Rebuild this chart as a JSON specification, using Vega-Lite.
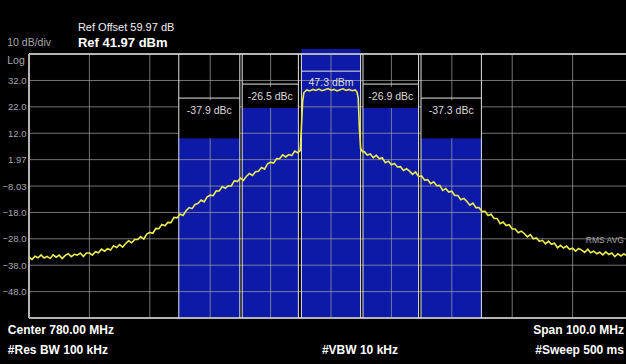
{
  "$schema": "https://vega.github.io/schema/vega-lite/v6.json",
  "width": 597,
  "height": 269,
  "autosize": {"type": "none"},
  "padding": {"left": 29, "top": 49, "right": 0, "bottom": 46},
  "background": "#000000",
  "config": {"view": {"stroke": null}, "font": "Liberation Sans", "axisY": {"labelOverlap": false}},
  "datasets": {
    "chan": [
      {"ch": "altL", "f1": 754.8, "f2": 764.9, "fc": 759.85, "p": 10.1, "bl": 25.3, "bt": 24.5, "ll": 20.4, "lbl": "-37.9 dBc"},
      {"ch": "adjL", "f1": 765.3, "f2": 774.6, "fc": 769.95, "p": 21.5, "bl": 30.6, "bt": 29.5, "ll": 25.7, "lbl": "-26.5 dBc"},
      {"ch": "ctr", "f1": 775.1, "f2": 784.9, "fc": 780.0, "p": 47.3, "bl": 35.5, "bt": null, "ll": 31.0, "lbl": "47.3 dBm"},
      {"ch": "adjR", "f1": 785.3, "f2": 794.5, "fc": 789.9, "p": 21.5, "bl": 30.6, "bt": 29.5, "ll": 25.7, "lbl": "-26.9 dBc"},
      {"ch": "altR", "f1": 794.9, "f2": 804.9, "fc": 799.9, "p": 10.1, "bl": 25.3, "bt": 24.5, "ll": 20.4, "lbl": "-37.3 dBc"}
    ],
    "vg": [{"f": 740}, {"f": 750}, {"f": 760}, {"f": 770}, {"f": 780}, {"f": 790}, {"f": 800}, {"f": 810}, {"f": 820}],
    "hg": [{"p": 31.97}, {"p": 21.97}, {"p": 11.97}, {"p": 1.97}, {"p": -8.03}, {"p": -18.03}, {"p": -28.03}, {"p": -38.03}, {"p": -48.03}],
    "trace": [
      {"f": 730, "p": -35.0}, {"f": 730.5, "p": -35.8}, {"f": 731, "p": -34.6}, {"f": 731.5, "p": -35.2},
      {"f": 732, "p": -34.1}, {"f": 732.5, "p": -35.3}, {"f": 733, "p": -34.7}, {"f": 733.5, "p": -35.5},
      {"f": 734, "p": -34.1}, {"f": 734.5, "p": -35.0}, {"f": 735, "p": -34.2}, {"f": 735.5, "p": -35.5},
      {"f": 736, "p": -34.3}, {"f": 736.5, "p": -33.7}, {"f": 737, "p": -34.8}, {"f": 737.5, "p": -33.9},
      {"f": 738, "p": -34.2}, {"f": 738.5, "p": -33.4}, {"f": 739, "p": -34.7}, {"f": 739.5, "p": -33.4},
      {"f": 740, "p": -33.4}, {"f": 740.5, "p": -34.2}, {"f": 741, "p": -32.9}, {"f": 741.5, "p": -33.3},
      {"f": 742, "p": -31.9}, {"f": 742.5, "p": -32.7}, {"f": 743, "p": -31.8}, {"f": 743.5, "p": -32.3},
      {"f": 744, "p": -30.7}, {"f": 744.5, "p": -31.3}, {"f": 745, "p": -30.2}, {"f": 745.5, "p": -31.2},
      {"f": 746, "p": -29.8}, {"f": 746.5, "p": -28.8}, {"f": 747, "p": -29.5}, {"f": 747.5, "p": -28.3},
      {"f": 748, "p": -28.3}, {"f": 748.5, "p": -27.2}, {"f": 749, "p": -28.1}, {"f": 749.5, "p": -26.2},
      {"f": 750, "p": -25.6}, {"f": 750.5, "p": -25.9}, {"f": 751, "p": -24.1}, {"f": 751.5, "p": -24.2},
      {"f": 752, "p": -22.6}, {"f": 752.5, "p": -23.1}, {"f": 753, "p": -21.8}, {"f": 753.5, "p": -21.9},
      {"f": 754, "p": -19.9}, {"f": 754.5, "p": -20.1}, {"f": 755, "p": -18.6}, {"f": 755.5, "p": -19.2},
      {"f": 756, "p": -17.4}, {"f": 756.5, "p": -16.2}, {"f": 757, "p": -16.6}, {"f": 757.5, "p": -15.0},
      {"f": 758, "p": -14.6}, {"f": 758.5, "p": -13.3}, {"f": 759, "p": -14.0}, {"f": 759.5, "p": -12.1},
      {"f": 760, "p": -11.5}, {"f": 760.5, "p": -11.7}, {"f": 761, "p": -9.8}, {"f": 761.5, "p": -9.9},
      {"f": 762, "p": -8.2}, {"f": 762.5, "p": -8.9}, {"f": 763, "p": -7.9}, {"f": 763.5, "p": -8.0},
      {"f": 764, "p": -6.0}, {"f": 764.5, "p": -6.3}, {"f": 765, "p": -5.0}, {"f": 765.5, "p": -5.9},
      {"f": 766, "p": -4.3}, {"f": 766.5, "p": -3.3}, {"f": 767, "p": -4.0}, {"f": 767.5, "p": -2.6},
      {"f": 768, "p": -2.4}, {"f": 768.5, "p": -1.0}, {"f": 769, "p": -1.6}, {"f": 769.5, "p": 0.4},
      {"f": 770, "p": 1.0}, {"f": 770.5, "p": 0.7}, {"f": 771, "p": 2.4}, {"f": 771.5, "p": 2.3},
      {"f": 772, "p": 3.8}, {"f": 772.5, "p": 3.0}, {"f": 773, "p": 3.9}, {"f": 773.5, "p": 3.5},
      {"f": 774, "p": 5.2}, {"f": 774.5, "p": 4.6}, {"f": 774.9, "p": 5.4}, {"f": 775.1, "p": 14.0},
      {"f": 775.3, "p": 24.0}, {"f": 775.5, "p": 27.3}, {"f": 775.8, "p": 28.0}, {"f": 776, "p": 28.4},
      {"f": 776.5, "p": 28.0}, {"f": 777, "p": 28.6}, {"f": 777.5, "p": 28.2}, {"f": 778, "p": 28.7},
      {"f": 778.5, "p": 28.1}, {"f": 779, "p": 28.5}, {"f": 779.5, "p": 28.9}, {"f": 780, "p": 28.3},
      {"f": 780.5, "p": 28.6}, {"f": 781, "p": 28.0}, {"f": 781.5, "p": 28.5}, {"f": 782, "p": 28.8},
      {"f": 782.5, "p": 28.2}, {"f": 783, "p": 28.6}, {"f": 783.5, "p": 28.1}, {"f": 784, "p": 28.4},
      {"f": 784.3, "p": 27.6}, {"f": 784.5, "p": 25.5}, {"f": 784.7, "p": 14.0}, {"f": 784.9, "p": 6.2},
      {"f": 785.2, "p": 5.0}, {"f": 785.5, "p": 5.0}, {"f": 786, "p": 3.7}, {"f": 786.5, "p": 4.1},
      {"f": 787, "p": 2.7}, {"f": 787.5, "p": 3.6}, {"f": 788, "p": 2.4}, {"f": 788.5, "p": 2.6},
      {"f": 789, "p": 0.8}, {"f": 789.5, "p": 1.4}, {"f": 790, "p": 0.0}, {"f": 790.5, "p": 0.5},
      {"f": 791, "p": -0.8}, {"f": 791.5, "p": -0.7}, {"f": 792, "p": -2.1}, {"f": 792.5, "p": -1.5},
      {"f": 793, "p": -2.4}, {"f": 793.5, "p": -3.6}, {"f": 794, "p": -2.7}, {"f": 794.5, "p": -4.4},
      {"f": 795, "p": -4.2}, {"f": 795.5, "p": -5.8}, {"f": 796, "p": -5.6}, {"f": 796.5, "p": -7.1},
      {"f": 797, "p": -6.4}, {"f": 797.5, "p": -7.9}, {"f": 798, "p": -7.8}, {"f": 798.5, "p": -9.7},
      {"f": 799, "p": -9.0}, {"f": 799.5, "p": -10.3}, {"f": 800, "p": -10.0}, {"f": 800.5, "p": -11.6},
      {"f": 801, "p": -11.6}, {"f": 801.5, "p": -13.2}, {"f": 802, "p": -12.7}, {"f": 802.5, "p": -13.9},
      {"f": 803, "p": -15.3}, {"f": 803.5, "p": -14.5}, {"f": 804, "p": -16.2}, {"f": 804.5, "p": -16.2},
      {"f": 805, "p": -17.7}, {"f": 805.5, "p": -17.6}, {"f": 806, "p": -19.2}, {"f": 806.5, "p": -18.7},
      {"f": 807, "p": -20.3}, {"f": 807.5, "p": -20.3}, {"f": 808, "p": -22.3}, {"f": 808.5, "p": -21.7},
      {"f": 809, "p": -23.0}, {"f": 809.5, "p": -22.7}, {"f": 810, "p": -24.3}, {"f": 810.5, "p": -24.3},
      {"f": 811, "p": -25.7}, {"f": 811.5, "p": -25.1}, {"f": 812, "p": -26.0}, {"f": 812.5, "p": -27.3},
      {"f": 813, "p": -26.4}, {"f": 813.5, "p": -28.0}, {"f": 814, "p": -27.7}, {"f": 814.5, "p": -29.0},
      {"f": 815, "p": -28.6}, {"f": 815.5, "p": -29.9}, {"f": 816, "p": -28.9}, {"f": 816.5, "p": -30.1},
      {"f": 817, "p": -29.7}, {"f": 817.5, "p": -31.4}, {"f": 818, "p": -30.5}, {"f": 818.5, "p": -31.5},
      {"f": 819, "p": -30.8}, {"f": 819.5, "p": -32.0}, {"f": 820, "p": -31.6}, {"f": 820.5, "p": -32.7},
      {"f": 821, "p": -31.7}, {"f": 821.5, "p": -32.3}, {"f": 822, "p": -33.2}, {"f": 822.5, "p": -32.0},
      {"f": 823, "p": -33.3}, {"f": 823.5, "p": -32.7}, {"f": 824, "p": -33.7}, {"f": 824.5, "p": -33.1},
      {"f": 825, "p": -34.1}, {"f": 825.5, "p": -33.0}, {"f": 826, "p": -34.0}, {"f": 826.5, "p": -33.4},
      {"f": 827, "p": -34.8}, {"f": 827.5, "p": -33.7}, {"f": 828, "p": -34.5}, {"f": 828.5, "p": -33.7},
      {"f": 828.8, "p": -34.3}
    ]
  },
  "layer": [
    {
      "data": {"name": "chan"},
      "mark": {"type": "rect", "color": "#0d1aa8", "clip": true},
      "encoding": {
        "x": {"field": "f1", "type": "quantitative", "scale": {"domain": [730, 828.84], "nice": false, "zero": false}, "axis": null},
        "x2": {"field": "f2"},
        "y": {"field": "p", "type": "quantitative", "scale": {"domain": [-58.03, 43.9], "nice": false, "zero": false},
          "axis": {"values": [31.97, 21.97, 11.97, 1.97, -8.03, -18.03, -28.03, -38.03, -48.03], "format": ".3r", "tickCount": 30,
            "title": null, "grid": false, "domain": false, "ticks": false, "labelOverlap": false, "labelBound": false, "labelFlush": false,
            "labelColor": "#a8a8a8", "labelFontSize": 9.5, "labelPadding": 3, "labelFont": "Liberation Sans"}},
        "y2": {"datum": -58.03}
      }
    },
    {
      "data": {"name": "vg"},
      "mark": {"type": "rule", "color": "#a0a0a0", "opacity": 0.72, "strokeWidth": 1},
      "encoding": {
        "x": {"field": "f", "type": "quantitative", "scale": {"domain": [730, 828.84], "nice": false, "zero": false}, "axis": null},
        "y": {"datum": 41.97, "type": "quantitative", "scale": {"domain": [-58.03, 43.9], "nice": false, "zero": false}},
        "y2": {"datum": -58.03}
      }
    },
    {
      "data": {"name": "hg"},
      "mark": {"type": "rule", "color": "#a0a0a0", "opacity": 0.72, "strokeWidth": 1},
      "encoding": {
        "y": {"field": "p", "type": "quantitative", "scale": {"domain": [-58.03, 43.9], "nice": false, "zero": false}}
      }
    },
    {
      "data": {"name": "chan"},
      "transform": [{"filter": "datum.bt != null"}],
      "mark": {"type": "rect", "color": "#000000"},
      "encoding": {
        "x": {"field": "f1", "type": "quantitative", "scale": {"domain": [730, 828.84], "nice": false, "zero": false}, "axis": null},
        "x2": {"field": "f2"},
        "y": {"field": "bt", "type": "quantitative", "scale": {"domain": [-58.03, 43.9], "nice": false, "zero": false}},
        "y2": {"field": "p"}
      }
    },
    {
      "data": {"values": [{"e": "top", "p": 41.97}, {"e": "bottom", "p": -58.03}]},
      "mark": {"type": "rule", "color": "#b4b4b4", "strokeWidth": 2},
      "encoding": {
        "y": {"field": "p", "type": "quantitative", "scale": {"domain": [-58.03, 43.9], "nice": false, "zero": false}}
      }
    },
    {
      "data": {"values": [{"e": "left", "f": 730}]},
      "mark": {"type": "rule", "color": "#b4b4b4", "strokeWidth": 2},
      "encoding": {
        "x": {"field": "f", "type": "quantitative", "scale": {"domain": [730, 828.84], "nice": false, "zero": false}, "axis": null},
        "y": {"datum": 41.97, "type": "quantitative", "scale": {"domain": [-58.03, 43.9], "nice": false, "zero": false}},
        "y2": {"datum": -58.03}
      }
    },
    {
      "data": {"name": "chan"},
      "mark": {"type": "rule", "color": "#e2e2e2", "strokeWidth": 1},
      "encoding": {
        "x": {"field": "f1", "type": "quantitative", "scale": {"domain": [730, 828.84], "nice": false, "zero": false}, "axis": null},
        "y": {"datum": 41.97, "type": "quantitative", "scale": {"domain": [-58.03, 43.9], "nice": false, "zero": false}},
        "y2": {"datum": -58.03}
      }
    },
    {
      "data": {"name": "chan"},
      "mark": {"type": "rule", "color": "#e2e2e2", "strokeWidth": 1},
      "encoding": {
        "x": {"field": "f2", "type": "quantitative", "scale": {"domain": [730, 828.84], "nice": false, "zero": false}, "axis": null},
        "y": {"datum": 41.97, "type": "quantitative", "scale": {"domain": [-58.03, 43.9], "nice": false, "zero": false}},
        "y2": {"datum": -58.03}
      }
    },
    {
      "data": {"name": "chan"},
      "mark": {"type": "rule", "color": "#e2e2e2", "strokeWidth": 1},
      "encoding": {
        "x": {"field": "f1", "type": "quantitative", "scale": {"domain": [730, 828.84], "nice": false, "zero": false}, "axis": null},
        "x2": {"field": "f2"},
        "y": {"field": "bl", "type": "quantitative", "scale": {"domain": [-58.03, 43.9], "nice": false, "zero": false}}
      }
    },
    {
      "data": {"name": "trace"},
      "mark": {"type": "line", "color": "#ecec50", "strokeWidth": 1.6, "clip": true},
      "encoding": {
        "x": {"field": "f", "type": "quantitative", "scale": {"domain": [730, 828.84], "nice": false, "zero": false}, "axis": null},
        "y": {"field": "p", "type": "quantitative", "scale": {"domain": [-58.03, 43.9], "nice": false, "zero": false}}
      }
    },
    {
      "data": {"name": "chan"},
      "mark": {"type": "text", "color": "#dcdcdc", "fontSize": 10.5, "align": "center", "baseline": "middle"},
      "encoding": {
        "x": {"field": "fc", "type": "quantitative", "scale": {"domain": [730, 828.84], "nice": false, "zero": false}, "axis": null},
        "y": {"field": "ll", "type": "quantitative", "scale": {"domain": [-58.03, 43.9], "nice": false, "zero": false}},
        "text": {"field": "lbl"}
      }
    },
    {
      "data": {"values": [{"t": "Ref Offset 59.97 dB", "f": 738.1, "p": 51.8}]},
      "mark": {"type": "text", "color": "#f0f0f0", "fontSize": 11, "align": "left", "baseline": "middle"},
      "encoding": {
        "x": {"field": "f", "type": "quantitative", "scale": {"domain": [730, 828.84], "nice": false, "zero": false}, "axis": null},
        "y": {"field": "p", "type": "quantitative", "scale": {"domain": [-58.03, 43.9], "nice": false, "zero": false}},
        "text": {"field": "t"}
      }
    },
    {
      "data": {"values": [{"t": "Ref 41.97 dBm", "f": 738.1, "p": 46.3}]},
      "mark": {"type": "text", "color": "#ffffff", "fontSize": 13, "fontWeight": "bold", "align": "left", "baseline": "middle"},
      "encoding": {
        "x": {"field": "f", "type": "quantitative", "scale": {"domain": [730, 828.84], "nice": false, "zero": false}, "axis": null},
        "y": {"field": "p", "type": "quantitative", "scale": {"domain": [-58.03, 43.9], "nice": false, "zero": false}},
        "text": {"field": "t"}
      }
    },
    {
      "data": {"values": [
        {"t": "10 dB/div", "f": 726.4, "p": 46.1},
        {"t": "Log", "f": 726.4, "p": 39.4}
      ]},
      "mark": {"type": "text", "color": "#a8a8a8", "fontSize": 10.5, "align": "left", "baseline": "middle"},
      "encoding": {
        "x": {"field": "f", "type": "quantitative", "scale": {"domain": [730, 828.84], "nice": false, "zero": false}, "axis": null},
        "y": {"field": "p", "type": "quantitative", "scale": {"domain": [-58.03, 43.9], "nice": false, "zero": false}},
        "text": {"field": "t"}
      }
    },
    {
      "data": {"values": [{"t": "RMS AVG", "f": 828.5, "p": -28.6}]},
      "mark": {"type": "text", "color": "#a8a8a8", "fontSize": 8.5, "align": "right", "baseline": "middle"},
      "encoding": {
        "x": {"field": "f", "type": "quantitative", "scale": {"domain": [730, 828.84], "nice": false, "zero": false}, "axis": null},
        "y": {"field": "p", "type": "quantitative", "scale": {"domain": [-58.03, 43.9], "nice": false, "zero": false}},
        "text": {"field": "t"}
      }
    },
    {
      "data": {"values": [
        {"t": "Center 780.00 MHz", "f": 726.5, "p": -62.6},
        {"t": "#Res BW  100 kHz", "f": 726.5, "p": -70.1},
        {"t": "#VBW  10 kHz", "f": 778.5, "p": -70.1}
      ]},
      "mark": {"type": "text", "color": "#ffffff", "fontSize": 12, "fontWeight": "bold", "align": "left", "baseline": "middle"},
      "encoding": {
        "x": {"field": "f", "type": "quantitative", "scale": {"domain": [730, 828.84], "nice": false, "zero": false}, "axis": null},
        "y": {"field": "p", "type": "quantitative", "scale": {"domain": [-58.03, 43.9], "nice": false, "zero": false}},
        "text": {"field": "t"}
      }
    },
    {
      "data": {"values": [
        {"t": "Span 100.0 MHz", "f": 828.5, "p": -62.6},
        {"t": "#Sweep  500 ms", "f": 828.5, "p": -70.1}
      ]},
      "mark": {"type": "text", "color": "#ffffff", "fontSize": 12, "fontWeight": "bold", "align": "right", "baseline": "middle"},
      "encoding": {
        "x": {"field": "f", "type": "quantitative", "scale": {"domain": [730, 828.84], "nice": false, "zero": false}, "axis": null},
        "y": {"field": "p", "type": "quantitative", "scale": {"domain": [-58.03, 43.9], "nice": false, "zero": false}},
        "text": {"field": "t"}
      }
    }
  ]
}
